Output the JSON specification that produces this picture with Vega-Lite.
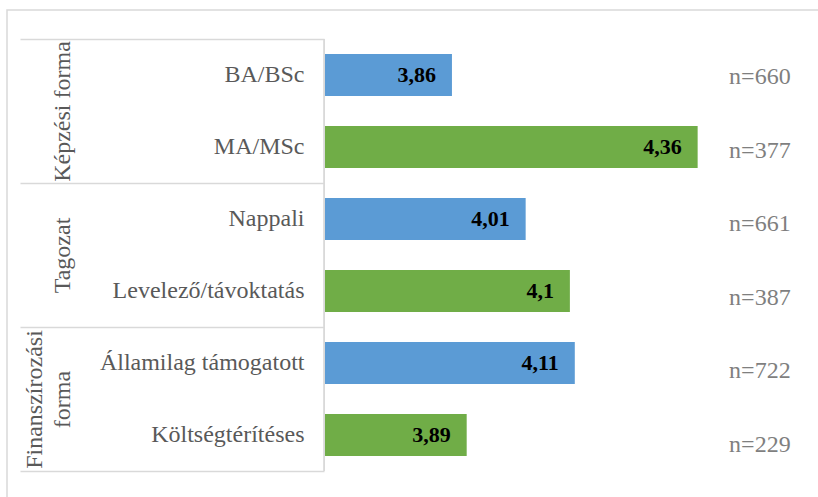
{
  "$schema": "https://vega.github.io/schema/vega-lite/v6.json",
  "autosize": {"type": "none"},
  "padding": {"left": 7, "top": 10, "right": 0, "bottom": 0},
  "width": 813,
  "height": 490,
  "background": "white",
  "config": {
    "view": {"stroke": "#d9d9d9", "strokeWidth": 1.5},
    "font": "Liberation Serif",
    "axis": {"labelFont": "Liberation Serif"},
    "style": {"guide-label": {"font": "Liberation Serif"}}
  },
  "data": {
    "values": [
      {"group": "Képzési forma", "category": "BA/BSc", "value": 3.86, "label": "3,86", "n": "n=660"},
      {"group": "Képzési forma", "category": "MA/MSc", "value": 4.36, "label": "4,36", "n": "n=377"},
      {"group": "Tagozat", "category": "Nappali", "value": 4.01, "label": "4,01", "n": "n=661"},
      {"group": "Tagozat", "category": "Levelező/távoktatás", "value": 4.1, "label": "4,1", "n": "n=387"},
      {"group": "Finanszírozási forma", "category": "Államilag támogatott", "value": 4.11, "label": "4,11", "n": "n=722"},
      {"group": "Finanszírozási forma", "category": "Költségtérítéses", "value": 3.89, "label": "3,89", "n": "n=229"}
    ]
  },
  "layer": [
    {
      "layer": [
        {
          "mark": {"type": "bar"},
          "encoding": {
            "y": {
              "field": "category", "type": "nominal", "sort": null,
              "scale": {"paddingInner": 0.42, "paddingOuter": 0.6128},
              "axis": {
                "orient": "left", "offset": -317, "domain": false, "ticks": false,
                "labelPadding": 20, "labelFontSize": 24, "labelFont": "Liberation Serif",
                "labelColor": "#595959", "title": null, "labelLimit": 0
              }
            },
            "x": {
              "field": "value", "type": "quantitative",
              "scale": {"domain": [2.9545, 4.609], "nice": false, "zero": false},
              "axis": null
            },
            "x2": {"datum": 3.6},
            "color": {
              "field": "category", "type": "nominal", "legend": null,
              "scale": {
                "domain": ["BA/BSc", "MA/MSc", "Nappali", "Levelező/távoktatás", "Államilag támogatott", "Költségtérítéses"],
                "range": ["#5B9BD5", "#70AD47", "#5B9BD5", "#70AD47", "#5B9BD5", "#70AD47"]
              }
            }
          }
        },
        {
          "mark": {"type": "text", "align": "right", "baseline": "middle", "dx": -16, "fontWeight": "bold", "fontSize": 22, "color": "black", "font": "Liberation Serif"},
          "encoding": {
            "y": {"field": "category", "type": "nominal", "sort": null},
            "x": {"field": "value", "type": "quantitative"},
            "text": {"field": "label"}
          }
        }
      ]
    },
    {
      "mark": {"type": "bar", "fill": "transparent", "stroke": "#d9d9d9", "strokeWidth": 1.5},
      "encoding": {
        "y": {
          "field": "group", "type": "nominal", "sort": null,
          "scale": {"paddingInner": 0, "paddingOuter": 0.2014},
          "axis": {
            "orient": "left", "offset": -317, "title": null,
            "domain": false,
            "ticks": true, "tickBand": "extent", "tickSize": 304, "tickColor": "#d9d9d9", "tickWidth": 1.5,
            "labelAngle": -90, "labelAlign": "center", "labelBaseline": "bottom",
            "labelPadding": {"condition": {"test": "datum.label == 'Finanszírozási forma'", "value": -26}, "value": -54},
            "labelFontSize": 24, "labelFont": "Liberation Serif",
            "labelColor": "#595959", "labelLimit": 0, "labelOverlap": false, "labelLineHeight": 28,
            "labelExpr": "datum.label == 'Finanszírozási forma' ? ['Finanszírozási', 'forma'] : datum.label"
          }
        },
        "x": {"datum": 3.6, "type": "quantitative"},
        "x2": {"datum": 3.6}
      }
    },
    {
      "mark": {"type": "text", "align": "left", "baseline": "middle", "fontSize": 24, "color": "#7f7f7f", "font": "Liberation Serif"},
      "encoding": {
        "y": {
          "field": "category", "type": "nominal", "sort": null,
          "scale": {"type": "point", "padding": 0.833, "align": 0.55},
          "axis": null
        },
        "x": {"datum": 4.424, "type": "quantitative"},
        "text": {"field": "n"}
      }
    }
  ],
  "resolve": {"scale": {"y": "independent", "x": "shared"}, "axis": {"y": "independent"}}
}
